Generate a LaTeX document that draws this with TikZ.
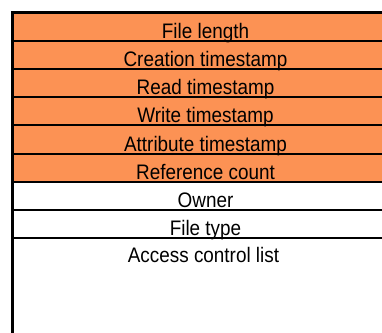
\documentclass[tikz,border=0pt]{standalone}
\usepackage{fontspec}
\setmainfont[FakeStretch=0.9]{Liberation Sans}
\usetikzlibrary{calc}

\definecolor{fieldorange}{RGB}{252,146,84}

\tikzset{
	fieldlabel/.style={anchor=base, inner sep=0pt, font=\fontsize{21bp}{24bp}\selectfont},
	rowline/.style={line width=2bp},
	frameline/.style={line width=2.6bp}
}

\begin{document}
\begin{tikzpicture}[x=1bp,y=-1bp]
	\useasboundingbox (0,0) rectangle (382,333);

	%% The record runs past the right and bottom edges of the picture
	\coordinate (R1) at (12.5,12.5); % top left corner
	\coordinate (R2) at (400,350); % bottom right corner (off the page)

	%% Left ends of the row lines, one row is 28.2 high
	\foreach \i in {0,1,...,8}
	{
	  \coordinate (L\i) at ($(R1)+(0,28.2*\i)$);
	}

	\begin{scope}
	  \clip (0,0) rectangle (382,333);

	  % orange fields (first six rows)
	  \fill[fieldorange] (L0) rectangle (L6 -| R2);

	  % row lines
	  \foreach \i in {1,2,...,8}
	  {
	    \draw[rowline] (L\i) -- (L\i -| R2);
	  }

	  % frame
	  \draw[frameline] (R1 |- R2) -- (R1) -- (R1 -| R2);
	\end{scope}

	%% Labels sit just above the lower line of each row
	\foreach \name/\txt [count=\i] in {length/File length,
	    creation/Creation timestamp, read/Read timestamp,
	    write/Write timestamp, attribute/Attribute timestamp,
	    refcount/Reference count, owner/Owner, type/File type}
	{
	  \node[fieldlabel] (\name) at ($(L\i)+(193,-2.5)$) {\txt};
	}
	\node[fieldlabel] (acl) at ($(L8)+(191,24.8)$) {Access control list};
\end{tikzpicture}
\end{document}
